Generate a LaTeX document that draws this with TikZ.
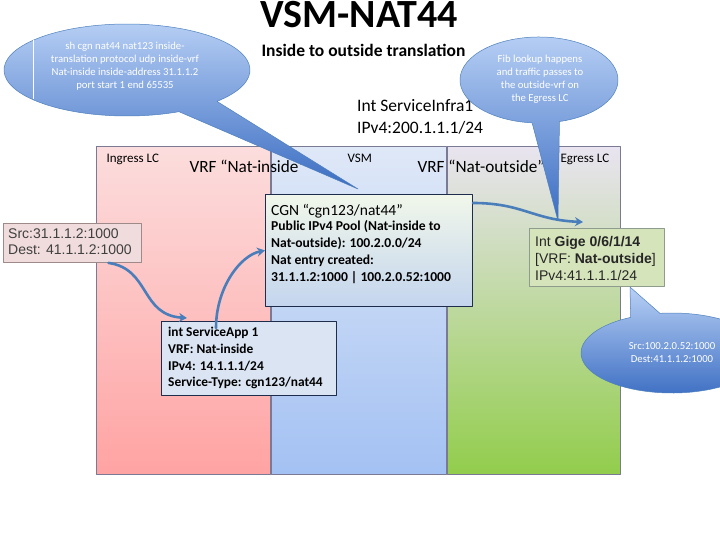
\documentclass[tikz,border=0pt]{standalone}
\usepackage{fontspec}
\setmainfont{Carlito}
\newfontfamily\arialfont{Liberation Sans}
\usetikzlibrary{arrows.meta,positioning}
\definecolor{pinktop}{HTML}{FCDDDD}
\definecolor{pinkbot}{HTML}{FFA3A3}
\definecolor{bluetop}{HTML}{DFE8F7}
\definecolor{bluebot}{HTML}{A3C1F3}
\definecolor{greentop}{HTML}{E9E4F0}
\definecolor{greenmid}{HTML}{C6DCA6}
\definecolor{greenbot}{HTML}{92CD4C}
\definecolor{panelline}{HTML}{7A7A95}
\definecolor{navy}{HTML}{1F2D4D}
\definecolor{flowblue}{HTML}{4A7EBB}
\definecolor{calltop}{HTML}{B8D0F5}
\definecolor{callbot}{HTML}{3B6DC2}
\definecolor{callline}{HTML}{4F81BD}
\definecolor{cgntop}{HTML}{F1F7EA}
\definecolor{cgnbot}{HTML}{C4D5EE}
\definecolor{appfill}{HTML}{DAE4F2}
\definecolor{srcfill}{HTML}{F0DCDC}
\definecolor{srcline}{HTML}{9F8A8A}
\definecolor{gigefill}{HTML}{D6E4BC}
\definecolor{gigeline}{HTML}{8E9C8E}
\begin{document}
\begin{tikzpicture}[x=1pt, y=1pt, >={Stealth[length=8pt,width=9pt]}, line join=round,
    panel/.style={draw=panelline, line width=0.8pt, anchor=north west, inner sep=0pt, minimum height=\panelh},
    box/.style={draw=navy, line width=0.9pt, anchor=north west, inner sep=0pt},
    txt/.style={anchor=north west, align=left, inner sep=0pt},
    bubble/.style={draw=callline, line width=0.5pt, top color=calltop, bottom color=callbot},
    bubtext/.style={align=center, text=white, font=\fontsize{10.7}{13}\selectfont},
    flow/.style={->, draw=flowblue, line width=2.6pt, line cap=round}]
	\def\panelh{328} % height of the three columns
	\useasboundingbox (0,0) rectangle (720,-540);
	% line cards and VSM
	\node[panel, minimum width=174, top color=pinktop, bottom color=pinkbot] (ingress) at (96,-146) {};
	\node[panel, minimum width=175, top color=bluetop, bottom color=bluebot] (vsm) at (ingress.north east) {};
	\node[panel, minimum width=173, top color=greentop, middle color=greenmid, bottom color=greenbot] (egress) at (vsm.north east) {};
	\node[anchor=base west, font=\fontsize{13}{15}\selectfont] (inglbl) at (103,-163) {Ingress LC};
	\node[anchor=base west, font=\fontsize{13}{15}\selectfont] (vsmlbl) at (344,-163) {VSM};
	\node[anchor=base west, font=\fontsize{13}{15}\selectfont] (eglbl) at (557,-163) {Egress LC};
	\node[anchor=base west, font=\fontsize{17.2}{20}\selectfont] (vrfin) at (186,-173) {VRF “Nat-inside”};
	\node[anchor=base west, font=\fontsize{17.2}{20}\selectfont] (vrfout) at (414,-173) {VRF “Nat-outside”};
	% titles
	\node[anchor=base, font=\fontsize{40}{44}\selectfont\bfseries] (title) at (359,-28) {VSM-NAT44};
	\node[anchor=base west, font=\fontsize{17.5}{20}\selectfont\bfseries] (sub) at (258,-57) {Inside to outside translation};
	\node[txt, font=\fontsize{17.5}{22}\selectfont] (infra) at (357,-99) {Int ServiceInfra1\\IPv4:200.1.1.1/24};
	% boxes
	\node[box, draw=srcline, fill=srcfill, minimum width=138, minimum height=39] (src) at (3,-223) {};
	\node[txt, font=\arialfont\fontsize{14}{16}\selectfont, text=black!75] (srctxt) at (8,-229) {Src:31.1.1.2:1000\\Dest: 41.1.1.2:1000};
	\node[box, minimum width=207, minimum height=112, top color=cgntop, bottom color=cgnbot] (cgn) at (265,-194) {};
	\node[txt, font=\fontsize{15.5}{18}\selectfont] (cgnhead) at ([shift={(6,-10)}]cgn.north west) {CGN “cgn123/nat44”};
	\node[txt, font=\fontsize{13.6}{17}\selectfont\bfseries, below=2pt of cgnhead.south west, anchor=north west] (cgnbody)
		{Public IPv4 Pool (Nat-inside to\\Nat-outside): 100.2.0.0/24\\Nat entry created:\\31.1.1.2:1000 | 100.2.0.52:1000};
	\node[box, fill=appfill, minimum width=175, minimum height=74] (app) at (161,-321) {};
	\node[txt, font=\fontsize{13.4}{16.7}\selectfont\bfseries] (apptxt) at ([shift={(7,-6)}]app.north west)
		{int ServiceApp 1\\VRF: Nat-inside\\IPv4: 14.1.1.1/24\\Service-Type: cgn123/nat44};
	\node[box, draw=gigeline, fill=gigefill, minimum width=135, minimum height=58] (gige) at (529,-228) {};
	\node[txt, font=\arialfont\fontsize{14}{17}\selectfont, text=black!85] (gigetxt) at ([shift={(6,-8)}]gige.north west)
		{Int \textbf{Gige 0/6/1/14}\\{}[VRF: \textbf{Nat-outside}]\\IPv4:41.1.1.1/24};
	% callouts
	\path[bubble] ([shift={(127,-70)}]-43:123 and 46) arc[start angle=-43, end angle=295, x radius=123, y radius=46] -- (358,-189) -- cycle;
	\draw[white, line width=0.8pt] (33,-40) -- (33,-99);
	\node[bubtext] (note1) at (125,-66) {sh cgn nat44 nat123 inside-\\translation protocol udp inside-vrf\\Nat-inside inside-address 31.1.1.2\\port start 1 end 65535};
	\path[bubble] ([shift={(539,-80)}]-75:79 and 43) arc[start angle=-75, end angle=265, x radius=79, y radius=43] -- (558,-221) -- cycle;
	\node[bubtext] (note2) at (540,-79) {Fib lookup happens\\and traffic passes to\\the outside-vrf on\\the Egress LC};
	\path[bubble] ([shift={(672,-353)}]117:91 and 40) arc[start angle=117, end angle=457.6, x radius=91, y radius=40] -- (630,-287) -- cycle;
	\node[bubtext] (note3) at (672,-353) {Src:100.2.0.52:1000\\Dest:41.1.1.2:1000};
	% packet path
	\draw[flow] ([xshift=36]src.south) .. controls +(42,-6) and +(-47,3) .. ([xshift=26,yshift=3]app.north west);
	\draw[flow] ([xshift=55,yshift=-7]app.north west) .. controls +(0,40) and +(-25,-5) .. (cgn.west);
	\draw[flow] ([yshift=-9]cgn.north east) .. controls +(50,0) and +(-50,2) .. ([xshift=54,yshift=6]gige.north west);
\end{tikzpicture}
\end{document}
